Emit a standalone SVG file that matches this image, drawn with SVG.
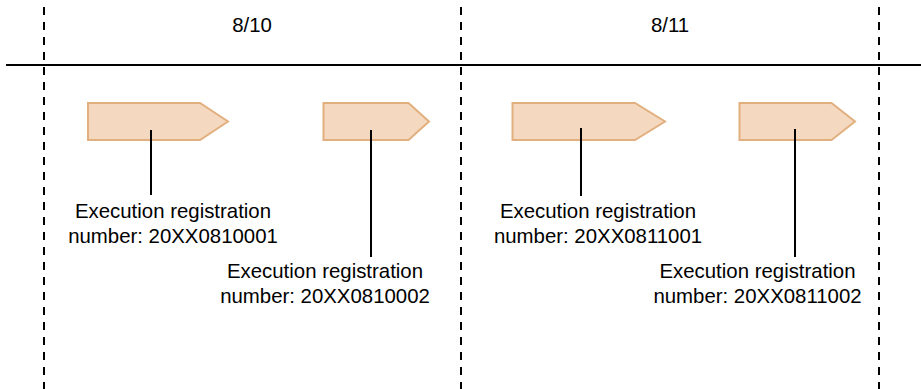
<svg xmlns="http://www.w3.org/2000/svg" width="921" height="389" viewBox="0 0 921 389">
<style>
.dash{stroke:#000;stroke-width:2;stroke-dasharray:8 7;fill:none}
.axis{stroke:#000;stroke-width:2;fill:none}
.job{fill:#F4D9C0;stroke:#E2B07F;stroke-width:2;stroke-linejoin:miter}
.lead{stroke:#000;stroke-width:2;fill:none}
text{font-family:"Liberation Sans",Arial,sans-serif;font-size:20.4px;fill:#000;text-anchor:middle}
</style>
<rect width="921" height="389" fill="#fff"/>
<g id="grid">
<line class="dash" x1="44" y1="7" x2="44" y2="389"/>
<line class="dash" x1="461" y1="7" x2="461" y2="389"/>
<line class="dash" x1="879" y1="7" x2="879" y2="389"/>
<line class="axis" x1="6" y1="65" x2="921" y2="65"/>
<text x="252" y="32">8/10</text>
<text x="670" y="32">8/11</text>
</g>
<g id="job1">
<polygon class="job" points="88,103 200,103 228,121.5 200,140 88,140"/>
<text x="173" y="218">Execution registration</text>
<text x="173" y="242.5">number: 20XX0810001</text>
</g>
<g id="job2">
<polygon class="job" points="323.5,103 408.5,103 429,121.5 408.5,140 323.5,140"/>
<text x="325" y="278">Execution registration</text>
<text x="325" y="302.5">number: 20XX0810002</text>
</g>
<g id="job3">
<polygon class="job" points="512.5,103 635,103 665,121.5 635,140 512.5,140"/>
<text x="598" y="218">Execution registration</text>
<text x="598" y="242.5">number: 20XX0811001</text>
</g>
<g id="job4">
<polygon class="job" points="739.5,103 831.5,103 855,121.5 831.5,140 739.5,140"/>
<text x="757.5" y="278">Execution registration</text>
<text x="757.5" y="302.5">number: 20XX0811002</text>
</g>
<g id="connectors">
<line class="lead" x1="151" y1="130" x2="151" y2="195"/>
<line class="lead" x1="371" y1="130" x2="371" y2="257"/>
<line class="lead" x1="581" y1="128" x2="581" y2="196"/>
<line class="lead" x1="795" y1="129" x2="795" y2="257"/>
</g>
</svg>
